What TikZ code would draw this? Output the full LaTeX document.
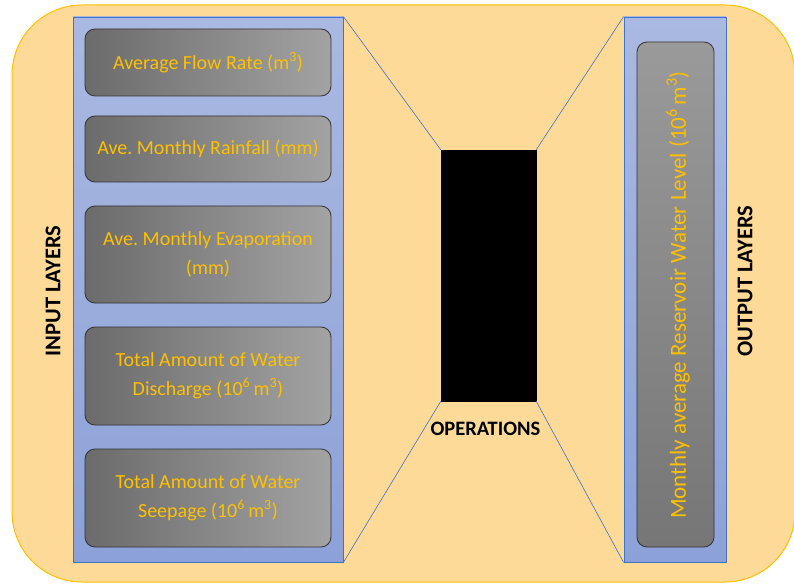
\documentclass[tikz,border=0pt]{standalone}
\usepackage{fontspec}
\setmainfont{Carlito}
\frenchspacing
\begin{document}
\begin{tikzpicture}[x=1pt,y=-1pt,
  outer/.style={draw=orange1, fill=orangefill, line width=1pt, rounded corners=70pt},
  panel/.style={draw=blueedge, line width=0.8pt, top color=bluetop, bottom color=bluebot, rectangle, inner sep=0pt},
  inbox/.style={draw=boxedge, line width=0.8pt, left color=graydark, right color=graylight, rectangle, rounded corners=10pt, minimum width=246pt, inner sep=0pt, text=textyel, align=center, font=\fontsize{20}{28.5}\selectfont},
  outbox/.style={draw=boxedge, line width=0.8pt, top color=graylight2, bottom color=graydark2, rectangle, rounded corners=10pt, inner sep=0pt},
  link/.style={draw=blueedge, line width=0.6pt},
  layerlabel/.style={font=\bfseries\fontsize{22.5}{26}\selectfont, text=black}
]
\definecolor{orange1}{HTML}{FFC000}
\definecolor{orangefill}{HTML}{FDDA97}
\definecolor{blueedge}{HTML}{4472C4}
\definecolor{bluetop}{HTML}{AAB9E1}
\definecolor{bluebot}{HTML}{8CA1D8}
\definecolor{boxedge}{HTML}{333333}
\definecolor{graydark}{HTML}{6B6B6B}
\definecolor{graylight}{HTML}{A3A3A3}
\definecolor{graylight2}{HTML}{9A9A9A}
\definecolor{graydark2}{HTML}{767676}
\definecolor{textyel}{HTML}{FFC000}
\useasboundingbox (0,0) rectangle (794,585);
\clip (0,0) rectangle (794,585);
\draw[outer] (12,5) rectangle (795,582);

% input panel
\node[panel, minimum width=270pt, minimum height=545pt] (inpanel) at (208,289.5) {};
\node[inbox, minimum height=67pt] (i1) at (208,62.5) {Average Flow Rate (m\textsuperscript{3})};
\node[inbox, minimum height=66pt] (i2) at (208,149) {Ave. Monthly Rainfall (mm)};
\node[inbox, minimum height=97pt] (i3) at (208,254.5) {Ave. Monthly Evaporation\\(mm)};
\node[inbox, minimum height=98pt] (i4) at (208,376) {Total Amount of Water\\Discharge (10\textsuperscript{6}\,m\textsuperscript{3})};
\node[inbox, minimum height=98pt] (i5) at (208,498) {Total Amount of Water\\Seepage (10\textsuperscript{6}\,m\textsuperscript{3})};

% operations
\node[fill=black, draw=black, rectangle, inner sep=0pt, minimum width=95pt, minimum height=251pt] (ops) at (488.5,275.5) {};
\node[font=\bfseries\fontsize{20.5}{24}\selectfont] (opslabel) at (485.5,429) {OPERATIONS};

% output panel
\node[panel, minimum width=102pt, minimum height=545pt] (outpanel) at (675,289.5) {};
\node[outbox, minimum width=77pt, minimum height=505pt] (o1) at (675.5,294.5) {};
\node[rotate=90, text=textyel, font=\fontsize{23}{27}\selectfont] (o1text) at (678,295) {Monthly average Reservoir Water Level (10\textsuperscript{6}\,m\textsuperscript{3})};

% connectors
\draw[link] (inpanel.north east) -- (ops.north west);
\draw[link] (inpanel.south east) -- (ops.south west);
\draw[link] (ops.north east) -- (outpanel.north west);
\draw[link] (ops.south east) -- (outpanel.south west);

% layer labels
\node[layerlabel, rotate=90] (inlabel) at (53,291) {INPUT LAYERS};
\node[layerlabel, rotate=90] (outlabel) at (745,281) {OUTPUT LAYERS};
\end{tikzpicture}
\end{document}
